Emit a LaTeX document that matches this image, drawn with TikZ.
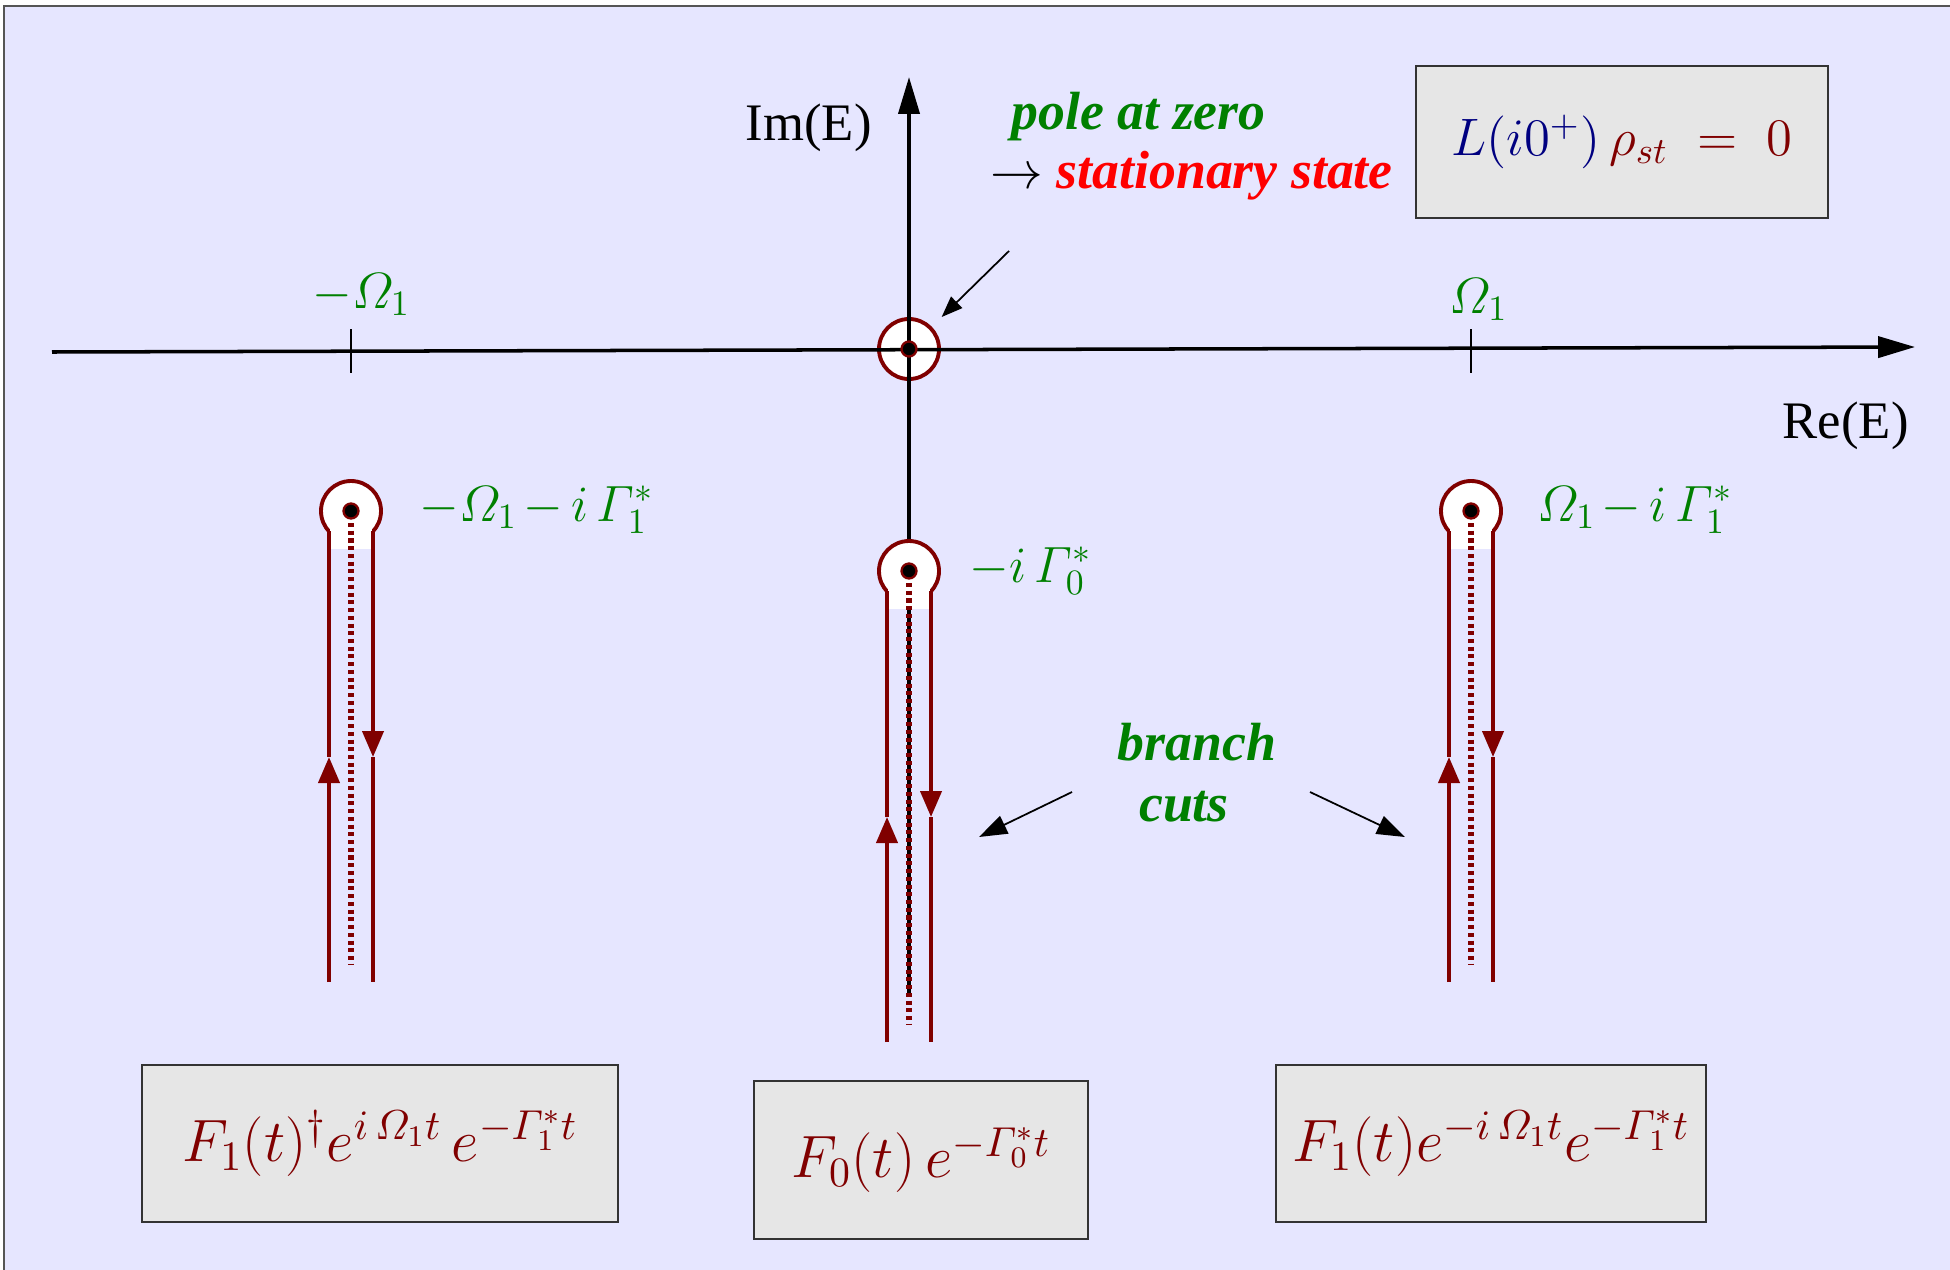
\RequirePackage{fix-cm}
\documentclass[tikz,border=0pt]{standalone}
\usepackage{amsmath}
\usepackage{fontspec}
\setmainfont{Liberation Serif}
\usetikzlibrary{arrows.meta}
\definecolor{PlaneBg}{HTML}{E6E6FF}
\definecolor{FrameGray}{HTML}{555555}
\definecolor{BoxGray}{HTML}{E6E6E6}
\definecolor{BoxEdge}{HTML}{333333}
\definecolor{CutRed}{HTML}{800000}
\definecolor{LblGreen}{HTML}{008000}
\definecolor{StateRed}{HTML}{FF0000}
\definecolor{OpNavy}{HTML}{000080}

\begin{document}
\begin{tikzpicture}[x=0.1mm,y=-0.1mm,
    axis/.style={line width=1pt,-{Triangle[length=10.5pt,width=6pt]}},
    tickmark/.style={line width=0.5pt},
    cutline/.style={CutRed,line width=1.1pt},
    cutflow/.style={cutline,-{Triangle[length=7.4pt,width=6pt]}},
    cutdots/.style={CutRed,line width=1.8pt,dash pattern=on 1.15pt off 1.05pt},
    poledot/.style={draw=CutRed,fill=black,line width=0.65pt},
    ptr/.style={line width=0.5pt,-{Triangle[length=6pt,width=4.5pt]}},
    cutptr/.style={line width=0.5pt,-{Triangle[length=8pt,width=5.5pt]}},
    axlbl/.style={inner sep=0pt,font=\fontsize{15}{18}\selectfont},
    lbl/.style={inner sep=0pt,text=LblGreen,font=\fontsize{14.5}{17}\selectfont},
    note/.style={inner sep=0pt,font=\fontsize{15.3}{17.5}\selectfont\bfseries\itshape},
    fbox/.style={draw=BoxEdge,fill=BoxGray,line width=0.4pt,inner sep=0pt,
                 text=CutRed,font=\fontsize{17}{20}\selectfont}]
  \useasboundingbox (0,0) rectangle (1950,1269);
  \fill[white] (0,0) rectangle (1950,1269);
  \draw[FrameGray,fill=PlaneBg,line width=0.4pt] (4,6) rectangle (1955,1275);

  % origin and axes
  \coordinate (O) at (909,349);
  \coordinate (reL) at (52,352);
  \coordinate (reR) at (1915,347);
  \coordinate (imB) at (909,997);
  \coordinate (imT) at (909,77);
  \draw[cutline,fill=white] (O) circle[radius=30];
  \draw[axis] (reL) -- (reR);
  \draw[axis] (imB) -- (imT);
  \draw[tickmark] (351,329) -- (351,373);
  \draw[tickmark] (1471,329) -- (1471,373);

  % poles with their branch cuts
  \foreach \name/\px/\py in {L/351/511,M/909/571,R/1471/511}{
    \coordinate (P\name) at (\px,\py);
    \begin{scope}[shift={(P\name)}]
      \fill[white] (0,0) circle[radius=30];
      \draw[cutline] (0,0) circle[radius=30];
      \fill[white] (-21,0) rectangle (21,38);
      \draw[cutflow] (-22,471) -- (-22,246);
      \draw[cutline] (-22,246) -- (-22,20.4);
      \draw[cutflow] (22,20.4) -- (22,246);
      \draw[cutline] (22,246) -- (22,471);
      \draw[cutdots] (0,12) -- (0,453);
      \filldraw[poledot] (0,0) circle[radius=7.5];
    \end{scope}
  }
  \filldraw[poledot] (O) circle[radius=7.5];

  % axis and pole labels
  \node[axlbl,anchor=base west] (imLbl) at (745,140) {Im(E)};
  \node[axlbl,anchor=base west] (reLbl) at (1782,438) {Re(E)};
  \node[lbl,anchor=base west] (mOm) at (312,308) {$-\varOmega_1$};
  \node[lbl,anchor=base west] (pOm) at (1449,313) {$\varOmega_1$};
  \node[lbl,anchor=base west] (lblL) at (419,521)
      {$-\varOmega_1\mkern2mu{-}\mkern3mu i\,\varGamma_1^{*}$};
  \node[lbl,anchor=base west] (lblM) at (969,582) {$-i\,\varGamma_0^{*}$};
  \node[lbl,anchor=base west] (lblR) at (1537,521)
      {$\varOmega_1\mkern2mu{-}\mkern3mu i\,\varGamma_1^{*}$};

  % notes
  \node[note,text=LblGreen,anchor=base west] (zero) at (1011,129) {pole at zero};
  \node[axlbl,anchor=base west] (state) at (990,188)
      {$\rightarrow$ \textcolor{StateRed}{\bfseries\itshape\fontsize{15.3}{17.5}\selectfont stationary state}};
  \coordinate (zeroFrom) at (1009,251);
  \draw[ptr,shorten >=13pt] (zeroFrom) -- (O);
  \node[note,text=LblGreen,anchor=base] (branch) at (1197,760) {branch};
  \node[note,text=LblGreen,anchor=base] (cuts) at (1184,821) {cuts};
  \coordinate (cutsL) at (1072,792);
  \coordinate (cutsLEnd) at (979,837);
  \coordinate (cutsR) at (1310,792);
  \coordinate (cutsREnd) at (1405,837);
  \draw[cutptr] (cutsL) -- (cutsLEnd);
  \draw[cutptr] (cutsR) -- (cutsREnd);

  % boxes
  \node[fbox,minimum width=41.2mm,minimum height=15.2mm,
        font=\fontsize{15}{18}\selectfont] (rhoBox) at (1622,142)
      {$\textcolor{OpNavy}{L(i0^{+})}\,\rho_{st}\mkern5mu=\mkern5mu0$};
  \node[fbox,minimum width=47.6mm,minimum height=15.7mm] (boxL) at (380,1143.5)
      {$F_1(t)^{\dagger}e^{i\,\varOmega_1 t}\,e^{-\varGamma_1^{*}t}$};
  \node[fbox,minimum width=33.4mm,minimum height=15.8mm] (boxM) at (921,1160)
      {$F_0(t)\,e^{-\varGamma_0^{*}t}$};
  \node[fbox,minimum width=43mm,minimum height=15.7mm] (boxR) at (1491,1143.5)
      {$F_1(t)e^{-i\,\varOmega_1 t}e^{-\varGamma_1^{*}t}$};
\end{tikzpicture}
\end{document}
